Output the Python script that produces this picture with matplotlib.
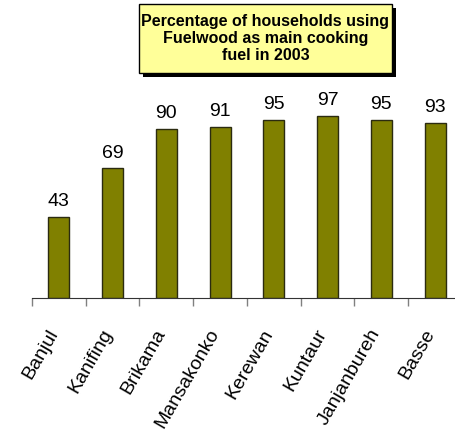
import matplotlib
matplotlib.use('Agg')
import matplotlib.pyplot as plt
import matplotlib.transforms as mtransforms
from matplotlib.patches import Rectangle
import numpy as np

plt.rcParams['font.family'] = ['Liberation Sans', 'DejaVu Sans']

distritos = ["Banjul", "Kanifing", "Brikama", "Mansakonko", "Kerewan",
             "Kuntaur", "Janjanbureh", "Basse"]
percentagens = [43, 69, 90, 91, 95, 97, 95, 93]
titulo = "Percentage of households using\nFuelwood as main cooking\nfuel in 2003"

W, H = 456, 433
fig = plt.figure(figsize=(W / 100, H / 100), dpi=100)

# eixo em pixels: base y=298, largura de categoria ~53.8 px
ax = fig.add_axes([32 / W, 135 / H, 430 / W, 187.7 / H])
x = np.arange(len(distritos))
barras = ax.bar(x, percentagens, width=0.39, color='#808000',
                edgecolor='#2b2b10', linewidth=1.0)

for b, v in zip(barras, percentagens):
    ax.annotate(str(v), (b.get_x() + b.get_width() / 2, b.get_height()),
                xytext=(0, 5), textcoords='offset points',
                ha='center', va='bottom', fontsize=14, clip_on=False)

ax.set_xlim(-0.5, len(distritos) - 0.5)
ax.set_ylim(0, 100)
for s in ['top', 'right', 'left']:
    ax.spines[s].set_visible(False)
ax.spines['bottom'].set_color('#333333')
ax.set_yticks([])

ax.set_xticks(x)
ax.set_xticklabels(distritos, rotation=60, ha='right', va='top',
                   rotation_mode='anchor', fontsize=14)
ax.tick_params(axis='x', which='major', length=0, pad=14)
ax.set_xticks(np.arange(len(distritos) + 1) - 0.5, minor=True)
ax.tick_params(axis='x', which='minor', length=6, color='#808080', width=1)

# desloca os rotulos um pouco para a esquerda e para baixo
desloc = mtransforms.ScaledTranslation(-12 / 100, -9 / 100, fig.dpi_scale_trans)
for rotulo in ax.get_xticklabels():
    rotulo.set_transform(rotulo.get_transform() + desloc)

# caixa do titulo com sombra
x0, y0, x1, y1 = 139, 4, 392, 73
sombra = Rectangle(((x0 + 4) / W, 1 - (y1 + 4) / H), (x1 - x0) / W, (y1 - y0) / H,
                   transform=fig.transFigure, facecolor='black', edgecolor='none')
caixa = Rectangle((x0 / W, 1 - y1 / H), (x1 - x0) / W, (y1 - y0) / H,
                  transform=fig.transFigure, facecolor='#FFFF99',
                  edgecolor='black', linewidth=1)
fig.patches.extend([sombra, caixa])
fig.text((x0 + x1) / 2 / W, 1 - (y0 + y1) / 2 / H, titulo, ha='center', va='center',
         fontsize=11.5, fontweight='bold', linespacing=1.15)

plt.savefig('out.png', dpi=100)
plt.close()
